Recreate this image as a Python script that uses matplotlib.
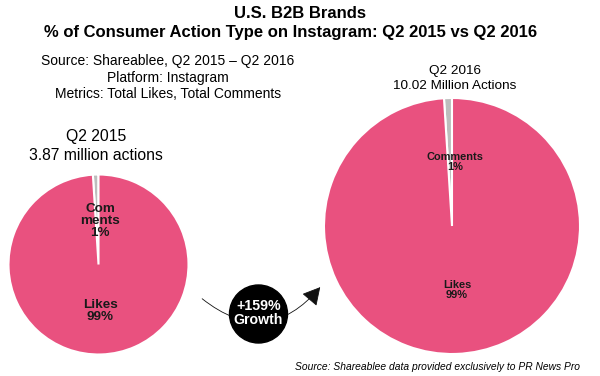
import matplotlib
matplotlib.use("Agg")
import matplotlib.pyplot as plt
from matplotlib.patches import Circle, FancyArrowPatch

plt.rcParams['font.family'] = ['Liberation Sans', 'DejaVu Sans']

categories = ["Comments", "Likes"]
q2_2015 = [1, 99]
q2_2016 = [1, 99]
pie_labels_2015 = ["Com\nments\n1%", "Likes\n99%"]
pie_labels_2016 = ["Comments\n1%", "Likes\n99%"]
growth_label = "+159%\nGrowth"

PINK = "#E9517F"
GRAY = "#BDBDBD"
H = 376

fig = plt.figure(figsize=(6, 3.76), dpi=100)
ax = fig.add_axes([0, 0, 1, 1])

def Y(y):
    return H - y

wp = dict(edgecolor="white", linewidth=1.5)
ax.pie(q2_2015, center=(98.5, Y(264.5)), radius=90, startangle=90, counterclock=True,
       colors=[GRAY, PINK], wedgeprops=wp, frame=True)
ax.pie(q2_2016, center=(452, Y(226)), radius=128, startangle=90, counterclock=True,
       colors=[GRAY, PINK], wedgeprops=wp, frame=True)

ax.set_xlim(0, 600)
ax.set_ylim(0, H)
ax.set_aspect('auto')
ax.axis('off')

LBL = '#1a1a1a'
# pie labels
ax.text(100, Y(221), pie_labels_2015[0], ha='center', va='center', fontsize=9.7,
        fontweight='bold', color=LBL, linespacing=1.0)
ax.text(100, Y(311), pie_labels_2015[1], ha='center', va='center', fontsize=9.7,
        fontweight='bold', color=LBL, linespacing=1.0)
ax.text(455, Y(162), pie_labels_2016[0], ha='center', va='center', fontsize=7.9,
        fontweight='bold', color=LBL, linespacing=0.95)
ax.text(457, Y(290), pie_labels_2016[1], ha='center', va='center', fontsize=7.9,
        fontweight='bold', color=LBL, linespacing=0.95)

# titles
ax.text(300, Y(13.5), "U.S. B2B Brands", ha='center', va='center', fontsize=12, fontweight='bold')
ax.text(291, Y(33), "% of Consumer Action Type on Instagram: Q2 2015 vs Q2 2016",
        ha='center', va='center', fontsize=12, fontweight='bold')
ax.text(168, Y(61), "Source: Shareablee, Q2 2015 \u2013 Q2 2016", ha='center', va='center', fontsize=10)
ax.text(168, Y(78), "Platform: Instagram", ha='center', va='center', fontsize=10)
ax.text(168, Y(94), "Metrics: Total Likes, Total Comments", ha='center', va='center', fontsize=10)

ax.text(96, Y(137), "Q2 2015", ha='center', va='center', fontsize=11.3)
ax.text(96, Y(156), "3.87 million actions", ha='center', va='center', fontsize=11.3)
ax.text(455, Y(71), "Q2 2016", ha='center', va='center', fontsize=9.7)
ax.text(455, Y(86), "10.02 Million Actions", ha='center', va='center', fontsize=9.7)

# growth arrow
arr = FancyArrowPatch((200, Y(297)), (322, Y(285)), connectionstyle="arc3,rad=0.5",
                      arrowstyle="-|>,head_length=0.55,head_width=0.3", mutation_scale=20,
                      color="#111111", lw=0.6)
ax.add_patch(arr)
ax.add_patch(Circle((258.5, Y(314)), 29, color='black', zorder=5))
ax.text(258.5, Y(313), growth_label, ha='center', va='center', fontsize=10.2,
        fontweight='bold', color='white', zorder=6, linespacing=1.0)

ax.text(580, Y(367), "Source: Shareablee data provided exclusively to PR News Pro",
        ha='right', va='center', fontsize=7.4, style='italic')

fig.savefig("out.png", dpi=100)
